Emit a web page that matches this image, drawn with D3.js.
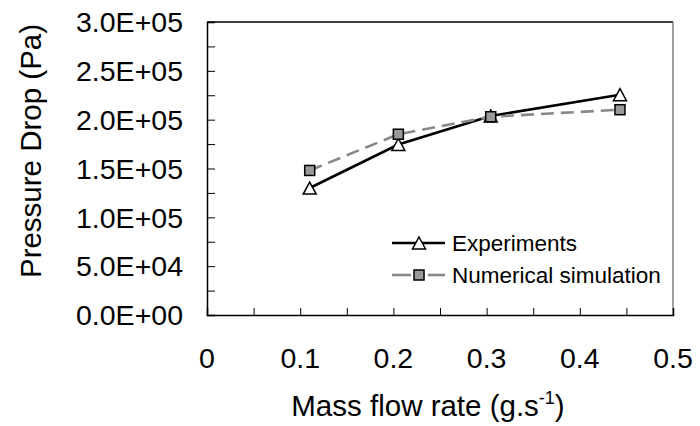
<!DOCTYPE html>
<html><head><meta charset="utf-8">
<script src="https://cdn.jsdelivr.net/npm/d3@7"></script>
<style>body{margin:0;background:#fff}svg{display:block;font-family:"Liberation Sans",Arial,sans-serif}</style>
</head><body>
<script>
const massFlow = [0.1102, 0.2053, 0.3044, 0.4431];
const experiments = [1.30e5, 1.746e5, 2.038e5, 2.256e5];
const simulation = [1.48e5, 1.851e5, 2.03e5, 2.102e5];
const xTicks = [0, 0.1, 0.2, 0.3, 0.4, 0.5];
const xTickLabels = ["0", "0.1", "0.2", "0.3", "0.4", "0.5"];
const yTicks = [0, 5e4, 1e5, 1.5e5, 2e5, 2.5e5, 3e5];
const yTickLabels = ["0.0E+00", "5.0E+04", "1.0E+05", "1.5E+05", "2.0E+05", "2.5E+05", "3.0E+05"];
const seriesNames = ["Experiments", "Numerical simulation"];

const W = 700, H = 426;
const svg = d3.select("body").append("svg").attr("width", W).attr("height", H);
const x = d3.scaleLinear().domain([0, 0.5]).range([207, 673]);
const y = d3.scaleLinear().domain([0, 3e5]).range([315, 22]);

// frame: top black, right gray
svg.append("line").attr("x1", x(0)).attr("x2", x(0.5)).attr("y1", y(3e5)).attr("y2", y(3e5)).attr("stroke", "#000").attr("stroke-width", 1.3);
svg.append("line").attr("x1", x(0.5)).attr("x2", x(0.5)).attr("y1", y(3e5)).attr("y2", y(0)).attr("stroke", "#808080").attr("stroke-width", 1.5);

// axes with inward ticks
const minorX = d3.range(0, 0.5001, 0.05);
const minorY = d3.range(0, 3.0001e5, 2.5e4);
const xAxis = d3.axisBottom(x).tickValues(minorX).tickSize(-7).tickFormat("");
const gx = svg.append("g").attr("transform", `translate(0,${y(0)})`).call(xAxis);
const yAxis = d3.axisLeft(y).tickValues(minorY).tickSize(-8).tickFormat("");
const gy = svg.append("g").attr("transform", `translate(${x(0)},0)`).call(yAxis);
[gx, gy].forEach(g => {
  g.select(".domain").attr("stroke", "#000").attr("stroke-width", 1.5);
  g.selectAll(".tick line").attr("stroke", "#000").attr("stroke-width", 1);
});

// tick labels
svg.append("g").selectAll("text").data(xTicks).join("text")
  .attr("x", d => x(d)).attr("y", 368).attr("text-anchor", "middle")
  .attr("font-size", 28.5).attr("fill", "#000")
  .text((d, i) => xTickLabels[i]);
svg.append("g").selectAll("text").data(yTicks).join("text")
  .attr("x", 183).attr("y", d => y(d)).attr("dy", "0.36em").attr("text-anchor", "end")
  .attr("font-size", 28.5).attr("fill", "#000")
  .attr("textLength", 107).attr("lengthAdjust", "spacingAndGlyphs")
  .text((d, i) => yTickLabels[i]);

// axis titles
const xt = svg.append("text").attr("x", 428).attr("y", 416).attr("text-anchor", "middle")
  .attr("font-size", 29.5).attr("fill", "#000");
xt.append("tspan").text("Mass flow rate (g.s");
xt.append("tspan").attr("font-size", 18).attr("dy", -12).text("-1");
xt.append("tspan").attr("dy", 12).text(")");
svg.append("text").attr("transform", "translate(41,151) rotate(-90)").attr("text-anchor", "middle")
  .attr("font-size", 29.5).attr("fill", "#000").text("Pressure Drop (Pa)");

// markers
const triPath = (cx, cy) => `M${cx},${cy - 6}L${cx + 6.5},${cy + 6}L${cx - 6.5},${cy + 6}Z`;
const sq = 10;

const line = d3.line().x(d => x(d[0])).y(d => y(d[1]));
const expPts = massFlow.map((m, i) => [m, experiments[i]]);
const simPts = massFlow.map((m, i) => [m, simulation[i]]);

svg.append("path").attr("d", line(expPts)).attr("fill", "none").attr("stroke", "#000").attr("stroke-width", 2.6);
svg.append("g").selectAll("path").data(expPts).join("path")
  .attr("d", d => triPath(x(d[0]), y(d[1]))).attr("fill", "#fff").attr("stroke", "#000").attr("stroke-width", 1.5);

svg.append("path").attr("d", line(simPts)).attr("fill", "none").attr("stroke", "#888").attr("stroke-width", 2.6).attr("stroke-dasharray", "13,7");
svg.append("g").selectAll("rect").data(simPts).join("rect")
  .attr("x", d => x(d[0]) - sq / 2).attr("y", d => y(d[1]) - sq / 2).attr("width", sq).attr("height", sq)
  .attr("fill", "#999").attr("stroke", "#000").attr("stroke-width", 1.5);

// legend
const lg = svg.append("g");
const ly1 = 243, ly2 = 275, lx0 = 392, lx1 = 445, lmx = 419;
lg.append("line").attr("x1", lx0).attr("x2", lx1).attr("y1", ly1).attr("y2", ly1).attr("stroke", "#000").attr("stroke-width", 2.6);
lg.append("path").attr("d", triPath(lmx, ly1)).attr("fill", "#fff").attr("stroke", "#000").attr("stroke-width", 1.5);
lg.append("line").attr("x1", lx0).attr("x2", 411).attr("y1", ly2).attr("y2", ly2).attr("stroke", "#888").attr("stroke-width", 2.6);
lg.append("line").attr("x1", 428).attr("x2", lx1).attr("y1", ly2).attr("y2", ly2).attr("stroke", "#888").attr("stroke-width", 2.6);
lg.append("rect").attr("x", lmx - sq / 2).attr("y", ly2 - sq / 2).attr("width", sq).attr("height", sq).attr("fill", "#999").attr("stroke", "#000").attr("stroke-width", 1.5);
lg.selectAll("text").data(seriesNames).join("text")
  .attr("x", 452).attr("y", (d, i) => [ly1, ly2][i]).attr("dy", "0.36em")
  .attr("font-size", 22.5).attr("fill", "#000").text(d => d);
</script>
</body></html>
